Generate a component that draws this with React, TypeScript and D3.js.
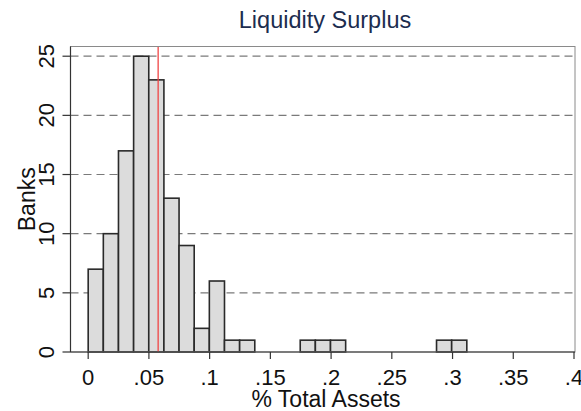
import React from 'react';
import * as d3 from 'd3';

// histogram bins (share of total assets), 25 bins
const binStart = 0;
const binWidth = 0.01247;
const counts = [7, 10, 17, 25, 23, 13, 9, 2, 6, 1, 1, 0, 0, 0, 1, 1, 1, 0, 0, 0, 0, 0, 0, 1, 1];
const xTicks = [0, 0.05, 0.1, 0.15, 0.2, 0.25, 0.3, 0.35, 0.4];
const xTickLabels = ['0', '.05', '.1', '.15', '.2', '.25', '.3', '.35', '.4'];
const yTicks = [0, 5, 10, 15, 20, 25];
const meanValue = 0.0576;

const W = 581;
const H = 411;
const left = 70.5;
const right = 575;
const top = 46.5;
const bottom = 352;
const font = "'Liberation Sans', Arial, sans-serif";

export default function App() {
  const x = d3.scaleLinear().domain([-0.01456, 0.40082]).range([left, right]);
  const y = d3.scaleLinear().domain([0, 25.82]).range([bottom, top]);

  const bins = counts.map((c, i) => ({ x0: binStart + i * binWidth, x1: binStart + (i + 1) * binWidth, c }));

  return (
    <svg width={W} height={H} style={{ position: 'absolute', left: 0, top: 0, background: '#fff' }}>
      <rect x={0} y={0} width={W} height={H} fill="#fff" />
      <text x={325} y={28} textAnchor="middle" fontFamily={font} fontSize={23.5} fill="#1c2d4f">
        Liquidity Surplus
      </text>

      {/* grid */}
      {yTicks.filter(t => t > 0).map(t => (
        <line key={'g' + t} x1={left} x2={right} y1={y(t)} y2={y(t)} stroke="#7a7a7a" strokeWidth={1.2} strokeDasharray="8,5" />
      ))}

      {/* bars */}
      {bins.filter(b => b.c > 0).map((b, i) => (
        <rect key={i} x={x(b.x0)} y={y(b.c)} width={x(b.x1) - x(b.x0)} height={y(0) - y(b.c)}
          fill="#dcdcdc" stroke="#2a2a2a" strokeWidth={1.6} />
      ))}

      {/* mean line */}
      <line x1={x(meanValue)} x2={x(meanValue)} y1={top} y2={bottom} stroke="#f04545" strokeWidth={1.3} />

      {/* frame */}
      <rect x={left} y={top} width={right - left} height={bottom - top} fill="none" stroke="#8a8a8a" strokeWidth={1} />
      <line x1={left} x2={left} y1={top} y2={bottom} stroke="#333" strokeWidth={1.2} />
      <line x1={left} x2={right} y1={bottom} y2={bottom} stroke="#333" strokeWidth={1.2} />

      {/* y axis */}
      {yTicks.map(t => (
        <g key={'y' + t}>
          <line x1={left - 8} x2={left} y1={y(t)} y2={y(t)} stroke="#333" strokeWidth={1.2} />
          <text transform={`translate(${53.5},${y(t)}) rotate(-90)`} textAnchor="middle" fontFamily={font} fontSize={22} fill="#111">
            {t}
          </text>
        </g>
      ))}
      <text transform={`translate(${35},${(top + bottom) / 2}) rotate(-90)`} textAnchor="middle" fontFamily={font} fontSize={23} fill="#111">
        Banks
      </text>

      {/* x axis */}
      {xTicks.map((t, i) => (
        <g key={'x' + t}>
          <line x1={x(t)} x2={x(t)} y1={bottom} y2={bottom + 7} stroke="#333" strokeWidth={1.2} />
          <text x={x(t)} y={385} textAnchor="middle" fontFamily={font} fontSize={22} fill="#111">
            {xTickLabels[i]}
          </text>
        </g>
      ))}
      <text x={326} y={406.5} textAnchor="middle" fontFamily={font} fontSize={23} fill="#111">
        % Total Assets
      </text>
    </svg>
  );
}
